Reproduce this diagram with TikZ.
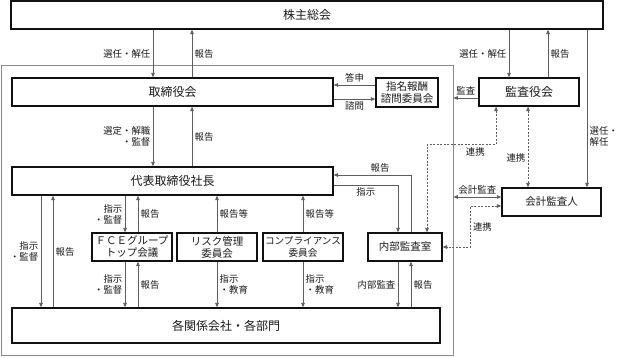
\documentclass[tikz,border=0pt]{standalone}
\usepackage{fontspec}
\setmainfont{Noto Sans CJK JP}
\usetikzlibrary{arrows.meta, positioning, calc}
\usepackage{xcolor}
\definecolor{cBox}{HTML}{111111}
\definecolor{cLine}{HTML}{5E5E5E}
\definecolor{cFrame}{HTML}{8A8A8A}
\definecolor{cText}{HTML}{1A1A1A}
\tikzset{
  orgbox/.style={
    draw=cBox, fill=white, line width=1.3pt,
    minimum height=28pt, inner sep=1pt,
    font=\fontsize{12}{14}\selectfont, text=cText, align=center,
  },
  subbox/.style={
    orgbox, font=\fontsize{10.5}{12}\selectfont,
  },
  groupframe/.style={draw=cFrame, line width=0.8pt, inner sep=0pt},
  lbl/.style={font=\fontsize{9.4}{11}\selectfont, text=cText, inner sep=2.3pt},
  arw/.style={-{Stealth[length=4.5pt, width=3.6pt, inset=0pt]}, line width=0.8pt, color=cLine},
  biarw/.style={{Stealth[length=4.5pt, width=3.6pt, inset=0pt]}-{Stealth[length=4.5pt, width=3.6pt, inset=0pt]},
    line width=0.8pt, color=cLine},
  dasharw/.style={biarw, dash pattern=on 2pt off 1.5pt},
}
\begin{document}
\begin{tikzpicture}[x=1pt, y=-1pt]

  \useasboundingbox (0,0) rectangle (620,357);

  % company frame
  \node[groupframe, minimum width=452pt, minimum height=290pt] (group) at (227,210) {};

  % boxes
  \node[orgbox, minimum width=592pt] (soukai) at (307,15) {株主総会};
  \node[orgbox, minimum width=321pt] (torishimari) at (172.5,92) {取締役会};
  \node[subbox, minimum width=62pt, minimum height=29pt]
    (shimei) at (407,92.5) {指名報酬\\諮問委員会};
  \node[orgbox, minimum width=100pt] (kansayaku) at (529,92) {監査役会};
  \node[orgbox, minimum width=321pt] (shacho) at (172.5,181) {代表取締役社長};
  \node[subbox, minimum width=99pt] (kaikei) at (551.5,202) {会計監査人};

  \node[subbox, minimum width=80pt] (fce) at (132,247) {ＦＣＥグループ\\トップ会議};
  \node[subbox, minimum width=80pt] (risk) at (217,247) {リスク管理\\委員会};
  \node[subbox, minimum width=80pt, font=\fontsize{9.6}{12}\selectfont]
    (comp) at (303,247) {コンプライアンス\\委員会};
  \node[subbox, minimum width=74pt] (naibu) at (405,247) {内部監査室};

  \node[orgbox, minimum width=428pt, minimum height=35pt] (kakubu) at (226,325.5) {各関係会社・各部門};

  % shareholders meeting
  \draw[arw] (soukai.south -| 153,0) -- node[lbl, midway, left] {選任・解任} (torishimari.north -| 153,0);
  \draw[arw] (torishimari.north -| 192,0) -- node[lbl, midway, right] {報告} (soukai.south -| 192,0);
  \draw[arw] (soukai.south -| 509,0) -- node[lbl, midway, left] {選任・解任} (kansayaku.north -| 509,0);
  \draw[arw] (kansayaku.north -| 548,0) -- node[lbl, midway, right] {報告} (soukai.south -| 548,0);
  \draw[arw] (soukai.south -| 587,0) -- node[lbl, pos=0.68, right, align=left] {選任・\\解任} (kaikei.north -| 587,0);

  % board, committee, auditors
  \draw[arw] (shimei.west |- 0,85) -- node[lbl, midway, above] {答申} (torishimari.east |- 0,85);
  \draw[arw] (torishimari.east |- 0,99) -- node[lbl, midway, below] {諮問} (shimei.west |- 0,99);
  \draw[arw] (kansayaku.west |- 0,98) -- node[lbl, midway, above] {監査} (group.east |- 0,98);

  % board and president
  \draw[arw] (torishimari.south -| 153,0) -- node[lbl, midway, left, align=right] {選定・解職\\・監督} (shacho.north -| 153,0);
  \draw[arw] (shacho.north -| 192,0) -- node[lbl, midway, right] {報告} (torishimari.south -| 192,0);

  % president and committees
  \draw[arw] (shacho.south -| 125,0) -- node[lbl, midway, left, align=right] {指示\\・監督} (fce.north -| 125,0);
  \draw[arw] (fce.north -| 138,0) -- node[lbl, midway, right] {報告} (shacho.south -| 138,0);
  \draw[arw] (risk.north) -- node[lbl, midway, right] {報告等} (shacho.south -| risk.north);
  \draw[arw] (comp.north) -- node[lbl, midway, right] {報告等} (shacho.south -| comp.north);

  % president and departments
  \draw[arw] (shacho.south -| 41,0) -- node[lbl, midway, left, align=right] {指示\\・監督} (kakubu.north -| 41,0);
  \draw[arw] (kakubu.north -| 53,0) -- node[lbl, midway, right] {報告} (shacho.south -| 53,0);

  % committees and departments
  \draw[arw] (fce.south -| 125,0) -- node[lbl, midway, left, align=right] {指示\\・監督} (kakubu.north -| 125,0);
  \draw[arw] (kakubu.north -| 138,0) -- node[lbl, midway, right] {報告} (fce.south -| 138,0);
  \draw[arw] (risk.south) -- node[lbl, midway, right, align=left] {指示\\・教育} (kakubu.north -| risk.south);
  \draw[arw] (comp.south) -- node[lbl, midway, right, align=left] {指示\\・教育} (kakubu.north -| comp.south);
  \draw[arw] (naibu.south -| 398,0) -- node[lbl, midway, left] {内部監査} (kakubu.north -| 398,0);
  \draw[arw] (kakubu.north -| 411,0) -- node[lbl, midway, right] {報告} (naibu.south -| 411,0);

  % president and internal audit
  \draw[arw] (shacho.east |- 0,185) -| node[lbl, pos=0.25, below] {指示} (naibu.north -| 398,0);
  \draw[arw] (naibu.north -| 411,0) |- node[lbl, pos=0.7, above] {報告} (shacho.east |- 0,175);

  % audit cooperation
  \draw[dasharw] (kansayaku.south -| 496,0) -- ++(0,38) -| node[lbl, pos=0.15, below] {連携} (naibu.north -| 427,0);
  \draw[dasharw] (kansayaku.south -| 528,0) -- node[lbl, pos=0.64, left] {連携} (kaikei.north -| 528,0);
  \draw[biarw] (group.east |- 0,197) -- node[lbl, midway, above] {会計監査} (kaikei.west |- 0,197);
  \draw[dasharw] (kaikei.west |- 0,206) -- ++(-31,0) |- node[lbl, pos=0.25, right] {連携} (naibu.east);

\end{tikzpicture}
\end{document}
